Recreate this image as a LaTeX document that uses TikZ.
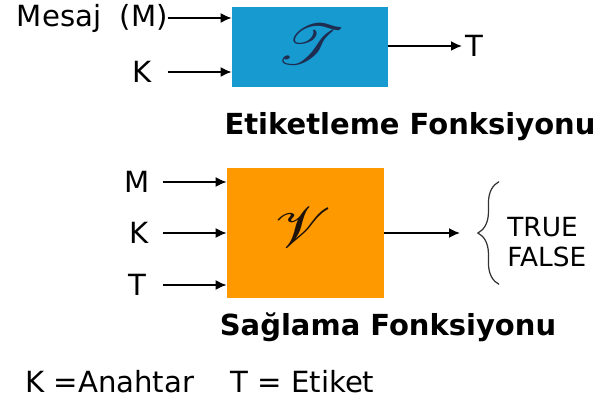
\documentclass[tikz,border=0pt]{standalone}
\usepackage{fontspec}
\setmainfont{DejaVu Sans}
\usepackage{graphicx}
\usepackage{mathrsfs}
\usetikzlibrary{arrows.meta,positioning,decorations.pathreplacing}
\definecolor{tagblue}{RGB}{22,154,208}
\definecolor{verorange}{RGB}{255,153,0}
\definecolor{inkblue}{RGB}{30,45,80}

\begin{document}
\begin{tikzpicture}[
  x=0.02cm, y=-0.02cm,
  func/.style={draw=none, minimum width=3.12cm, inner sep=0pt},
  lbl/.style={font=\fontsize{16.6}{18}\selectfont, inner sep=0pt},
  caption/.style={font=\fontsize{16.5}{19}\selectfont\bfseries, inner sep=0pt},
  sym/.style={font=\fontsize{24.88}{25}\selectfont, inner sep=0pt},
  arrow/.style={-{Latex[length=2.2mm,width=2mm]}, line width=1pt}
]
\useasboundingbox (0,0) rectangle (598,405);
% etiketleme fonksiyonu
\node[func, fill=tagblue, minimum height=1.6cm] (tag) at (310,47) {};
\node[sym, text=inkblue] (tagsym) at (311,45) {\scalebox{1.5}[1.3]{$\mathscr{T}$}};
\node[lbl, anchor=east] (msg) at (168,18) {Mesaj\ \ (M)};
\node[lbl, anchor=east] (key1) at (152,72) {K};
\draw[arrow] ([xshift=-1.28cm]tag.west |- msg.east) -- (tag.west |- msg.east);
\draw[arrow] ([xshift=-1.28cm]tag.west |- key1.east) -- (tag.west |- key1.east);
\node[lbl, anchor=west] (tagout) at (465,46) {T};
\draw[arrow] (tag.east |- tagout.west) -- ([xshift=-0.06cm]tagout.west);
\node[caption] (tagcap) at (410,127) {Etiketleme Fonksiyonu};
% saglama fonksiyonu
\node[func, fill=verorange, minimum width=3.14cm, minimum height=2.6cm] (ver) at (305.5,233) {};
\node[sym, text=black!85!brown] (versym) at (303,228) {\scalebox{1.45}[1.3]{$\mathscr{V}$}};
\node[lbl, anchor=east] (inm) at (150,182) {M};
\node[lbl, anchor=east] (ink) at (149,233) {K};
\node[lbl, anchor=east] (int) at (147,285) {T};
\foreach \n in {inm,ink,int}
  \draw[arrow] ([xshift=-1.28cm]ver.west |- \n.east) -- (ver.west |- \n.east);
\node[lbl, font=\fontsize{15}{17}\selectfont, align=left, anchor=west,
  minimum height=2.04cm, inner xsep=0.16cm] (res) at (499,242) {TRUE\\FALSE};
\draw[decorate, decoration={brace, amplitude=12pt}, line width=0.7pt, black!80]
  ([yshift=0.18cm]res.south west) -- ([yshift=0.18cm]res.north west);
\draw[arrow] (ver.east) -- ([xshift=-0.78cm]res.west |- ver.east);
\node[caption] (vercap) at (388,327) {Sağlama Fonksiyonu};
% kisaltmalar
\node[lbl, anchor=west] (keydef) at (25,382) {K =Anahtar};
\node[lbl, anchor=west] (tagdef) at (230,382) {T = Etiket};
\end{tikzpicture}
\end{document}
